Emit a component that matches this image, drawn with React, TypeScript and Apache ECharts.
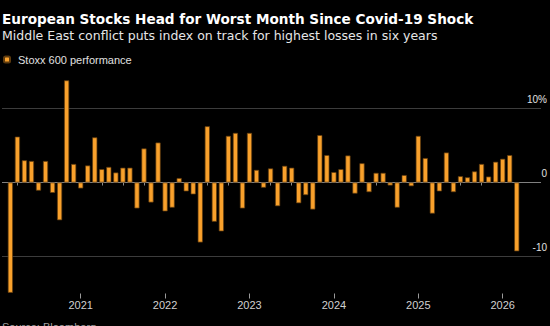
import React, { useEffect, useRef } from "react";
import * as echarts from "echarts";

const months: string[] = (() => {
  const out: string[] = [];
  for (let y = 2020; y <= 2026; y++) {
    for (let m = 1; m <= 12; m++) {
      if (y === 2020 && m < 3) continue;
      if (y === 2026 && m > 3) continue;
      out.push(`${y}-${String(m).padStart(2, "0")}`);
    }
  }
  return out;
})();

const perf2020 = [-14.9, 6.2, 3.0, 2.9, -1.1, 2.9, -1.4, -5.1, 13.8, 2.5];
const perf2021 = [-0.8, 2.3, 6.1, 1.8, 2.1, 1.35, 2.0, 2.0, -3.5, 4.6, -2.7, 5.4];
const perf2022 = [-3.9, -3.4, 0.6, -1.2, -1.6, -8.1, 7.6, -5.3, -6.6, 6.3, 6.7, -3.5];
const perf2023 = [6.7, 1.7, -0.7, 1.9, -3.2, 2.25, 2.0, -2.8, -1.7, -3.65, 6.4, 3.7];
const perf2024 = [1.4, 1.8, 3.65, -1.5, 2.6, -1.3, 1.3, 1.3, -0.4, -3.4, 1.0, -0.5];
const perf2025 = [6.3, 3.3, -4.2, -1.2, 4.05, -1.3, 0.85, 0.7, 1.5, 2.5, 0.8, 2.8];
const perf2026 = [3.2, 3.7, -9.3];

const values = [
  ...perf2020,
  ...perf2021,
  ...perf2022,
  ...perf2023,
  ...perf2024,
  ...perf2025,
  ...perf2026,
];

const yTickLabels: Record<number, string> = { 10: "10%", 0: "0", [-10]: "-10" };

const FONT = "'Liberation Sans', Arial, sans-serif";
const HEAD = "'DejaVu Sans', sans-serif";

export default function App() {
  const ref = useRef<HTMLDivElement>(null);

  useEffect(() => {
    if (!ref.current) return;
    const chart = echarts.init(ref.current, undefined, { renderer: "svg" });
    const isQuarter = (i: number) => {
      const m = parseInt(months[i].slice(5), 10);
      return m === 1 || m === 4 || m === 7 || m === 10;
    };
    const isYear = (i: number) => months[i].slice(5) === "01";

    const T = 71.5;
    const H = 222;

    chart.setOption({
      animation: false,
      backgroundColor: "#000000",
      textStyle: { fontFamily: FONT },
      graphic: [
        {
          type: "text",
          x: 2,
          y: 18.5,
          style: {
            text: "European Stocks Head for Worst Month Since Covid-19 Shock",
            fill: "#ffffff",
            font: `bold 13.6px ${HEAD}`,
            textAlign: "left",
            textVerticalAlign: "middle",
          },
        },
        {
          type: "text",
          x: 2,
          y: 35.5,
          style: {
            text: "Middle East conflict puts index on track for highest losses in six years",
            fill: "#e6e6e6",
            font: `12.5px ${HEAD}`,
            textAlign: "left",
            textVerticalAlign: "middle",
          },
        },
        {
          type: "text",
          x: 2,
          y: 321,
          style: {
            text: "Source: Bloomberg",
            fill: "#a0a0a0",
            font: `11px ${FONT}`,
            textAlign: "left",
            textVerticalAlign: "top",
          },
        },
      ],
      legend: {
        left: 3,
        top: 54,
        padding: 0,
        icon: "roundRect",
        itemWidth: 6,
        itemHeight: 6,
        textStyle: {
          color: "#e0e0e0",
          fontSize: 11,
          fontFamily: FONT,
          padding: [0, 0, 0, 3],
        },
        data: ["Stoxx 600 performance"],
      },
      grid: [
        { left: 2, right: 7.7, top: T, height: H, containLabel: false },
        { left: 6.85, right: 29.75, top: T, height: H, containLabel: false },
      ],
      xAxis: [
        { type: "value", gridIndex: 0, min: 0, max: 1, show: false },
        {
          type: "category",
          gridIndex: 1,
          position: "bottom",
          data: months,
          boundaryGap: true,
          axisLine: { show: false },
          axisTick: {
            show: true,
            alignWithLabel: true,
            interval: (i: number) => isQuarter(i) && !isYear(i),
            length: 3,
            lineStyle: { color: "#8a8a8a", width: 1 },
          },
          axisLabel: { show: false },
          splitLine: { show: false },
        },
        {
          type: "category",
          gridIndex: 1,
          position: "bottom",
          offset: 0,
          data: months,
          boundaryGap: true,
          axisLine: { show: false },
          axisTick: {
            show: true,
            alignWithLabel: true,
            interval: (i: number) => isYear(i),
            length: 5,
            lineStyle: { color: "#9a9a9a", width: 1 },
          },
          axisLabel: {
            show: true,
            interval: (i: number) => isYear(i),
            formatter: (v: string) => v.slice(0, 4),
            color: "#d0d0d0",
            fontSize: 11,
            fontFamily: FONT,
            margin: 6,
          },
          splitLine: { show: false },
        },
      ],
      yAxis: [
        {
          type: "value",
          gridIndex: 0,
          position: "right",
          min: -15,
          max: 15,
          interval: 5,
          axisLine: { show: false },
          axisTick: { show: false },
          splitLine: {
            show: true,
            lineStyle: {
              width: 1,
              color: [
                "rgba(0,0,0,0)",
                "#3c3c3c",
                "rgba(0,0,0,0)",
                "#808080",
                "rgba(0,0,0,0)",
                "#3c3c3c",
                "rgba(0,0,0,0)",
              ],
            },
          },
          axisLabel: {
            inside: true,
            margin: -6,
            color: "#e0e0e0",
            fontSize: 10,
            fontFamily: FONT,
            verticalAlign: "bottom",
            lineHeight: 12,
            padding: [0, 0, 3, 0],
            formatter: (v: number) => yTickLabels[v] ?? "",
          },
        },
        {
          type: "value",
          gridIndex: 1,
          min: -15,
          max: 15,
          interval: 5,
          show: false,
          splitLine: { show: false },
        },
      ],
      series: [
        {
          name: "Stoxx 600 performance",
          type: "bar",
          xAxisIndex: 1,
          yAxisIndex: 1,
          data: values,
          barWidth: 5.1,
          itemStyle: {
            color: "#F9A12C",
            borderColor: "#5e3b0e",
            borderWidth: 0.7,
          },
        },
      ],
    });
    return () => chart.dispose();
  }, []);

  return (
    <div
      ref={ref}
      style={{ position: "fixed", left: 0, top: 0, width: 550, height: 326 }}
    />
  );
}
